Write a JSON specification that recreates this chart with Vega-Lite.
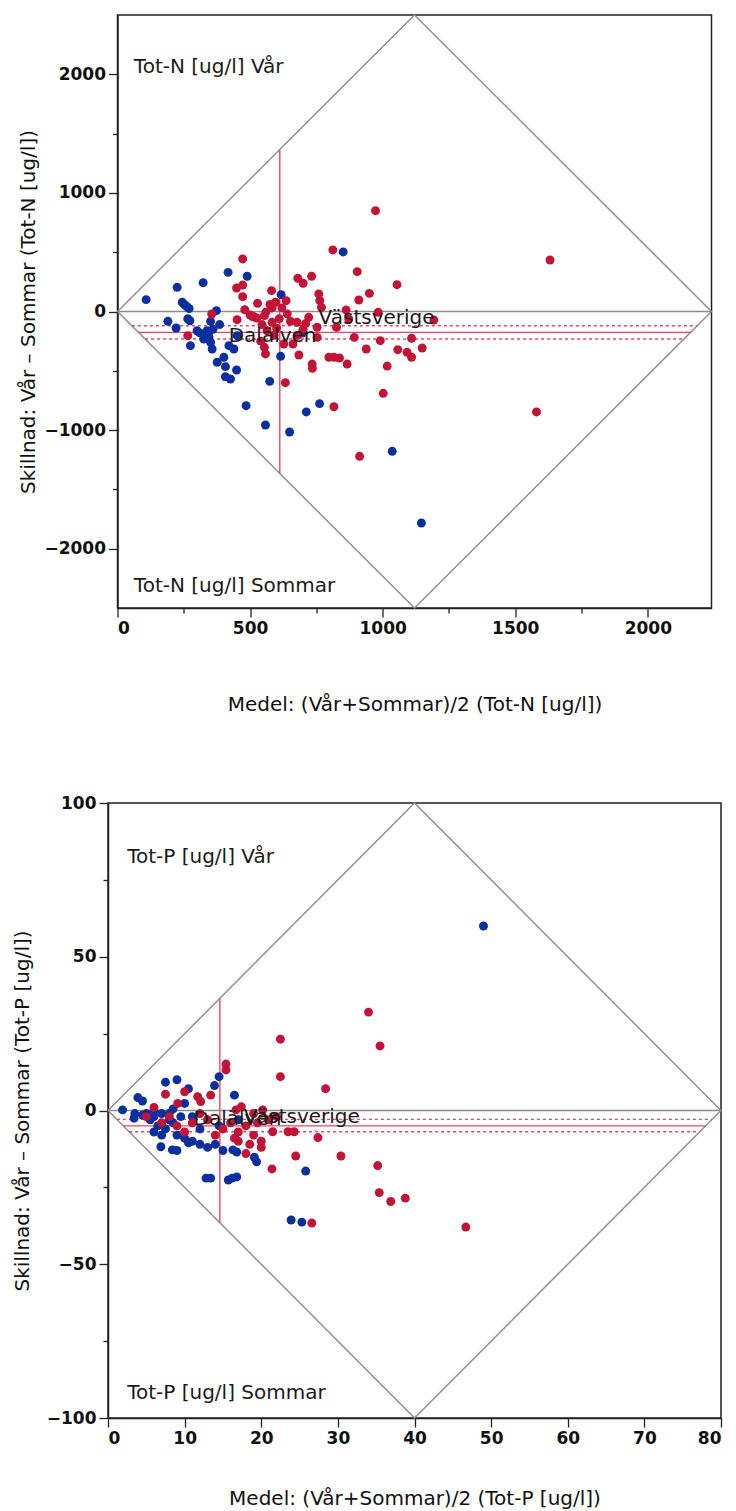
{
  "$schema": "https://vega.github.io/schema/vega-lite/v6.json",
  "padding": {"left": 11, "top": 11, "right": 10, "bottom": 0},
  "background": "white",
  "spacing": 195,
  "bounds": "flush",
  "center": true,
  "resolve": {"scale": {"x": "independent", "y": "independent", "color": "independent"}},
  "config": {
    "view": {"stroke": "#222", "strokeWidth": 1.5},
    "axis": {
      "labelFont": "DejaVu Sans", "labelFontWeight": "bold", "labelFontSize": 17, "labelColor": "#111",
      "titleFont": "DejaVu Sans", "titleFontWeight": "normal", "titleFontSize": 20, "titleColor": "#111",
      "domainColor": "#222", "domainWidth": 1.5, "tickColor": "#222", "tickWidth": 1.3, "grid": false, "labelPadding": 3
    },
    "text": {"font": "DejaVu Sans", "fontSize": 20, "color": "#1a1a1a"}
  },
  "datasets": {
    "dN": [{"i":0,"x":0,"y":0},{"i":1,"x":1120,"y":2500},{"i":2,"x":2240,"y":0},{"i":3,"x":1120,"y":-2500},{"i":4,"x":0,"y":0}],
    "zN": [{"x":0,"x2":2240,"y":0}],
    "mN": [{"kind":"medel","x":79,"x2":2161,"y":-176},{"kind":"ki","x":54,"x2":2186,"y":-120},{"kind":"ki","x":104,"x2":2136,"y":-232}],
    "vN": [{"x":612,"y":-1366,"y2":1366}],
    "lN": [{"x":585,"y":-207,"t":"Dalälven"},{"x":977,"y":-55,"t":"Västsverige"}],
    "cN": [{"x":61.6,"y":2059,"t":"Tot-N [ug/l] Vår"},{"x":61.6,"y":-2312,"t":"Tot-N [ug/l] Sommar"}],
    "pN": [
      {"g":"Dalälven","x":108,"y":100},{"g":"Dalälven","x":225,"y":204},{"g":"Dalälven","x":323,"y":243},{"g":"Dalälven","x":417,"y":330},
      {"g":"Dalälven","x":489,"y":297},{"g":"Dalälven","x":244,"y":78},{"g":"Dalälven","x":253,"y":57},{"g":"Dalälven","x":262,"y":40},
      {"g":"Dalälven","x":270,"y":25},{"g":"Dalälven","x":190,"y":-83},{"g":"Dalälven","x":221,"y":-139},{"g":"Dalälven","x":265,"y":-61},
      {"g":"Dalälven","x":273,"y":-78},{"g":"Dalälven","x":275,"y":-288},{"g":"Dalälven","x":300,"y":-162},{"g":"Dalälven","x":310,"y":-180},
      {"g":"Dalälven","x":325,"y":-232},{"g":"Dalälven","x":338,"y":-162},{"g":"Dalälven","x":351,"y":-260},{"g":"Dalälven","x":357,"y":-316},
      {"g":"Dalälven","x":351,"y":-83},{"g":"Dalälven","x":373,"y":7},{"g":"Dalälven","x":376,"y":-428},{"g":"Dalälven","x":401,"y":-386},
      {"g":"Dalälven","x":407,"y":-465},{"g":"Dalälven","x":407,"y":-550},{"g":"Dalälven","x":426,"y":-569},{"g":"Dalälven","x":420,"y":-288},
      {"g":"Dalälven","x":439,"y":-316},{"g":"Dalälven","x":449,"y":-493},{"g":"Dalälven","x":451,"y":-204},{"g":"Dalälven","x":330,"y":-190},
      {"g":"Dalälven","x":345,"y":-210},{"g":"Dalälven","x":360,"y":-150},{"g":"Dalälven","x":385,"y":-110},{"g":"Dalälven","x":485,"y":-794},
      {"g":"Dalälven","x":558,"y":-957},{"g":"Dalälven","x":574,"y":-589},{"g":"Dalälven","x":615,"y":-378},{"g":"Dalälven","x":617,"y":142},
      {"g":"Dalälven","x":649,"y":-1016},{"g":"Dalälven","x":696,"y":-181},{"g":"Dalälven","x":712,"y":-847},{"g":"Dalälven","x":762,"y":-777},
      {"g":"Dalälven","x":851,"y":502},{"g":"Dalälven","x":1036,"y":-1179},{"g":"Dalälven","x":1146,"y":-1783},
      {"g":"Västsverige","x":472,"y":443},{"g":"Västsverige","x":449,"y":198},{"g":"Västsverige","x":472,"y":223},{"g":"Västsverige","x":472,"y":125},
      {"g":"Västsverige","x":480,"y":15},{"g":"Västsverige","x":451,"y":-69},{"g":"Västsverige","x":355,"y":-21},{"g":"Västsverige","x":265,"y":-204},
      {"g":"Västsverige","x":528,"y":69},{"g":"Västsverige","x":581,"y":176},{"g":"Västsverige","x":596,"y":78},{"g":"Västsverige","x":583,"y":30},
      {"g":"Västsverige","x":636,"y":91},{"g":"Västsverige","x":500,"y":-30},{"g":"Västsverige","x":515,"y":-45},{"g":"Västsverige","x":525,"y":-55},
      {"g":"Västsverige","x":509,"y":-42},{"g":"Västsverige","x":554,"y":-35},{"g":"Västsverige","x":564,"y":-162},{"g":"Västsverige","x":554,"y":-302},
      {"g":"Västsverige","x":558,"y":-358},{"g":"Västsverige","x":583,"y":-91},{"g":"Västsverige","x":627,"y":-274},{"g":"Västsverige","x":633,"y":-600},
      {"g":"Västsverige","x":652,"y":-83},{"g":"Västsverige","x":677,"y":-91},{"g":"Västsverige","x":662,"y":-274},{"g":"Västsverige","x":684,"y":-367},
      {"g":"Västsverige","x":680,"y":280},{"g":"Västsverige","x":700,"y":238},{"g":"Västsverige","x":732,"y":297},{"g":"Västsverige","x":721,"y":-49},
      {"g":"Västsverige","x":734,"y":-443},{"g":"Västsverige","x":735,"y":-479},{"g":"Västsverige","x":759,"y":148},{"g":"Västsverige","x":763,"y":91},
      {"g":"Västsverige","x":769,"y":35},{"g":"Västsverige","x":753,"y":-133},{"g":"Västsverige","x":753,"y":-218},{"g":"Västsverige","x":797,"y":-386},
      {"g":"Västsverige","x":816,"y":-386},{"g":"Västsverige","x":837,"y":-392},{"g":"Västsverige","x":816,"y":-803},{"g":"Västsverige","x":826,"y":-133},
      {"g":"Västsverige","x":812,"y":519},{"g":"Västsverige","x":866,"y":-443},{"g":"Västsverige","x":862,"y":13},{"g":"Västsverige","x":872,"y":-63},
      {"g":"Västsverige","x":904,"y":336},{"g":"Västsverige","x":910,"y":97},{"g":"Västsverige","x":893,"y":-218},{"g":"Västsverige","x":938,"y":-316},
      {"g":"Västsverige","x":950,"y":153},{"g":"Västsverige","x":973,"y":850},{"g":"Västsverige","x":983,"y":-7},{"g":"Västsverige","x":991,"y":-246},
      {"g":"Västsverige","x":1017,"y":-460},{"g":"Västsverige","x":1002,"y":-690},{"g":"Västsverige","x":1054,"y":226},{"g":"Västsverige","x":1057,"y":-322},
      {"g":"Västsverige","x":1092,"y":-344},{"g":"Västsverige","x":1109,"y":-386},{"g":"Västsverige","x":1109,"y":-226},{"g":"Västsverige","x":1149,"y":-308},
      {"g":"Västsverige","x":913,"y":-1221},{"g":"Västsverige","x":1193,"y":-72},{"g":"Västsverige","x":1631,"y":434},{"g":"Västsverige","x":1580,"y":-847},
      {"g":"Västsverige","x":545,"y":-110},{"g":"Västsverige","x":600,"y":-140},{"g":"Västsverige","x":590,"y":-200},{"g":"Västsverige","x":540,"y":-250},
      {"g":"Västsverige","x":610,"y":-60},{"g":"Västsverige","x":620,"y":30},{"g":"Västsverige","x":575,"y":60},{"g":"Västsverige","x":560,"y":-5},
      {"g":"Västsverige","x":640,"y":-20},{"g":"Västsverige","x":700,"y":-150},{"g":"Västsverige","x":710,"y":-100},{"g":"Västsverige","x":680,"y":-200}
    ],
    "dP": [{"i":0,"x":0,"y":0},{"i":1,"x":40,"y":100},{"i":2,"x":80,"y":0},{"i":3,"x":40,"y":-100},{"i":4,"x":0,"y":0}],
    "zP": [{"x":0,"x2":80,"y":0}],
    "mP": [{"kind":"medel","x":2.0,"x2":78.0,"y":-5.0},{"kind":"ki","x":1.16,"x2":78.84,"y":-2.9},{"kind":"ki","x":2.76,"x2":77.24,"y":-6.9}],
    "vP": [{"x":14.6,"y":-36.5,"y2":36.5}],
    "lP": [{"x":16.9,"y":-2.8,"t":"Dalälven"},{"x":25.3,"y":-2.2,"t":"Västsverige"}],
    "cP": [{"x":2.5,"y":82.4,"t":"Tot-P [ug/l] Vår"},{"x":2.5,"y":-91.9,"t":"Tot-P [ug/l] Sommar"}],
    "pP": [
      {"g":"Dalälven","x":49,"y":60},{"g":"Dalälven","x":14.5,"y":11},{"g":"Dalälven","x":13.9,"y":8.1},{"g":"Dalälven","x":16.5,"y":5},
      {"g":"Dalälven","x":7.5,"y":9.2},{"g":"Dalälven","x":9.0,"y":10.0},{"g":"Dalälven","x":10.5,"y":7.1},{"g":"Dalälven","x":10.0,"y":2.3},
      {"g":"Dalälven","x":3.9,"y":4.2},{"g":"Dalälven","x":4.5,"y":3.1},{"g":"Dalälven","x":1.9,"y":0.2},{"g":"Dalälven","x":3.4,"y":-2.5},
      {"g":"Dalälven","x":6.9,"y":-11.8},{"g":"Dalälven","x":8.4,"y":-12.8},{"g":"Dalälven","x":25.8,"y":-19.7},{"g":"Dalälven","x":25.3,"y":-36.3},
      {"g":"Dalälven","x":23.9,"y":-35.6},{"g":"Dalälven","x":19.4,"y":-16.7},{"g":"Dalälven","x":19.1,"y":-15.2},{"g":"Dalälven","x":16.3,"y":-12.8},
      {"g":"Dalälven","x":16.8,"y":-13.5},{"g":"Dalälven","x":16.2,"y":-22},{"g":"Dalälven","x":16.8,"y":-21.6},{"g":"Dalälven","x":15.7,"y":-22.6},
      {"g":"Dalälven","x":12.8,"y":-22},{"g":"Dalälven","x":13.4,"y":-22},{"g":"Dalälven","x":5,"y":-1},{"g":"Dalälven","x":6,"y":-2},
      {"g":"Dalälven","x":7,"y":-1},{"g":"Dalälven","x":8,"y":-3},{"g":"Dalälven","x":6.5,"y":-5},{"g":"Dalälven","x":7.5,"y":-6},
      {"g":"Dalälven","x":8.5,"y":-4},{"g":"Dalälven","x":9,"y":-8},{"g":"Dalälven","x":10,"y":-9},{"g":"Dalälven","x":11,"y":-10},
      {"g":"Dalälven","x":12,"y":-11},{"g":"Dalälven","x":13,"y":-12},{"g":"Dalälven","x":14,"y":-11},{"g":"Dalälven","x":9.5,"y":-2},
      {"g":"Dalälven","x":8,"y":-1},{"g":"Dalälven","x":5.5,"y":-3},{"g":"Dalälven","x":7,"y":-8},{"g":"Dalälven","x":6,"y":-7},
      {"g":"Dalälven","x":10.5,"y":-10.5},{"g":"Dalälven","x":12,"y":-6},{"g":"Dalälven","x":14.5,"y":-5},{"g":"Dalälven","x":15,"y":-13},
      {"g":"Dalälven","x":17,"y":-3},{"g":"Dalälven","x":11,"y":-2},{"g":"Dalälven","x":9,"y":-13},{"g":"Dalälven","x":4.5,"y":-1.5},
      {"g":"Dalälven","x":3.5,"y":-1},{"g":"Dalälven","x":6,"y":0},{"g":"Dalälven","x":8.5,"y":0.5},
      {"g":"Västsverige","x":34,"y":32},{"g":"Västsverige","x":35.5,"y":21},{"g":"Västsverige","x":28.4,"y":7.1},{"g":"Västsverige","x":22.5,"y":23.2},
      {"g":"Västsverige","x":22.5,"y":11},{"g":"Västsverige","x":15.4,"y":15.1},{"g":"Västsverige","x":15.4,"y":13.2},{"g":"Västsverige","x":13.4,"y":5.0},
      {"g":"Västsverige","x":10.0,"y":6.1},{"g":"Västsverige","x":7.5,"y":5.3},{"g":"Västsverige","x":9.1,"y":2.3},{"g":"Västsverige","x":11.7,"y":4.5},
      {"g":"Västsverige","x":12.1,"y":2.9},{"g":"Västsverige","x":20.2,"y":0.2},{"g":"Västsverige","x":17.4,"y":1.2},{"g":"Västsverige","x":16.7,"y":0.2},
      {"g":"Västsverige","x":24.3,"y":-6.9},{"g":"Västsverige","x":27.4,"y":-8.8},{"g":"Västsverige","x":21.5,"y":-6.9},{"g":"Västsverige","x":23.5,"y":-6.9},
      {"g":"Västsverige","x":24.5,"y":-14.8},{"g":"Västsverige","x":30.4,"y":-14.8},{"g":"Västsverige","x":46.7,"y":-37.9},{"g":"Västsverige","x":38.8,"y":-28.5},
      {"g":"Västsverige","x":36.9,"y":-29.6},{"g":"Västsverige","x":35.2,"y":-17.9},{"g":"Västsverige","x":35.4,"y":-26.7},{"g":"Västsverige","x":26.6,"y":-36.6},
      {"g":"Västsverige","x":21.4,"y":-19},{"g":"Västsverige","x":18,"y":-5},{"g":"Västsverige","x":19,"y":-8},{"g":"Västsverige","x":20,"y":-10},
      {"g":"Västsverige","x":17,"y":-7},{"g":"Västsverige","x":18.5,"y":-11},{"g":"Västsverige","x":19.5,"y":-4},{"g":"Västsverige","x":21,"y":-3},
      {"g":"Västsverige","x":20,"y":-12},{"g":"Västsverige","x":16,"y":-4},{"g":"Västsverige","x":15,"y":-6},{"g":"Västsverige","x":14,"y":-8},
      {"g":"Västsverige","x":13,"y":-3},{"g":"Västsverige","x":12,"y":-1},{"g":"Västsverige","x":11,"y":-4},{"g":"Västsverige","x":10,"y":-7},
      {"g":"Västsverige","x":9,"y":-5},{"g":"Västsverige","x":8,"y":-2},{"g":"Västsverige","x":7,"y":-4},{"g":"Västsverige","x":6,"y":1},
      {"g":"Västsverige","x":5,"y":-2},{"g":"Västsverige","x":22,"y":-2},{"g":"Västsverige","x":19,"y":-1},{"g":"Västsverige","x":17,"y":-10},
      {"g":"Västsverige","x":18,"y":-14},{"g":"Västsverige","x":16.5,"y":-9}
    ]
  },
  "vconcat": [
    {
      "width": 594, "height": 593,
      "encoding": {
        "x": {"field": "x", "type": "quantitative", "title": "Medel: (Vår+Sommar)/2 (Tot-N [ug/l])",
          "scale": {"domain": [0, 2240], "nice": false, "zero": false},
          "axis": {"values": [0,250,500,750,1000,1250,1500,1750,2000], "format": "d",
            "labelExpr": "datum.value % 500 === 0 ? datum.label : ''",
            "tickSize": {"condition": {"test": "datum.value % 500 !== 0", "value": 5}, "value": 9},
            "titlePadding": 58}},
        "y": {"field": "y", "type": "quantitative", "title": "Skillnad: Vår – Sommar (Tot-N [ug/l])",
          "scale": {"domain": [-2500, 2500], "nice": false, "zero": false},
          "axis": {"values": [-2000,-1500,-1000,-500,0,500,1000,1500,2000], "format": "d",
            "labelExpr": "datum.value % 1000 === 0 ? datum.label : ''",
            "tickSize": {"condition": {"test": "datum.value % 1000 !== 0", "value": 5}, "value": 9},
            "titleX": -79}}
      },
      "layer": [
        {"data": {"name": "dN"}, "mark": {"type": "line", "color": "#8c8c8c", "strokeWidth": 1.4}, "encoding": {"order": {"field": "i"}}},
        {"data": {"name": "zN"}, "mark": {"type": "rule", "color": "#8c8c8c", "strokeWidth": 1.4}, "encoding": {"x2": {"field": "x2"}}},
        {"data": {"name": "mN"}, "transform": [{"filter": "datum.kind === 'medel'"}], "mark": {"type": "rule", "color": "#EE4466", "strokeWidth": 1.4}, "encoding": {"x2": {"field": "x2"}}},
        {"data": {"name": "mN"}, "transform": [{"filter": "datum.kind === 'ki'"}], "mark": {"type": "rule", "color": "#EE4466", "strokeWidth": 1.4, "strokeDash": [3, 3]}, "encoding": {"x2": {"field": "x2"}}},
        {"data": {"name": "vN"}, "mark": {"type": "rule", "color": "#EE4466", "strokeWidth": 1.4}, "encoding": {"y2": {"field": "y2"}}},
        {"data": {"name": "pN"}, "mark": {"type": "circle", "size": 80, "opacity": 1},
          "encoding": {"color": {"field": "g", "type": "nominal", "scale": {"domain": ["Dalälven", "Västsverige"], "range": ["#0B2F9F", "#C21436"]}, "legend": null}}},
        {"data": {"name": "lN"}, "mark": {"type": "text", "align": "center", "baseline": "middle"}, "encoding": {"text": {"field": "t"}}},
        {"data": {"name": "cN"}, "mark": {"type": "text", "align": "left", "baseline": "middle"}, "encoding": {"text": {"field": "t"}}}
      ]
    },
    {
      "width": 613, "height": 615,
      "encoding": {
        "x": {"field": "x", "type": "quantitative", "title": "Medel: (Vår+Sommar)/2 (Tot-P [ug/l])",
          "scale": {"domain": [0, 80], "nice": false, "zero": false},
          "axis": {"values": [0,10,20,30,40,50,60,70,80], "format": "d", "tickSize": 9, "titlePadding": 42}},
        "y": {"field": "y", "type": "quantitative", "title": "Skillnad: Vår – Sommar (Tot-P [ug/l])",
          "scale": {"domain": [-100, 100], "nice": false, "zero": false},
          "axis": {"values": [-100,-75,-50,-25,0,25,50,75,100], "format": "d",
            "labelExpr": "datum.value % 50 === 0 ? datum.label : ''",
            "tickSize": {"condition": {"test": "datum.value % 50 !== 0", "value": 5}, "value": 9},
            "titleX": -76}}
      },
      "layer": [
        {"data": {"name": "dP"}, "mark": {"type": "line", "color": "#8c8c8c", "strokeWidth": 1.4}, "encoding": {"order": {"field": "i"}}},
        {"data": {"name": "zP"}, "mark": {"type": "rule", "color": "#8c8c8c", "strokeWidth": 1.4}, "encoding": {"x2": {"field": "x2"}}},
        {"data": {"name": "mP"}, "transform": [{"filter": "datum.kind === 'medel'"}], "mark": {"type": "rule", "color": "#EE4466", "strokeWidth": 1.4}, "encoding": {"x2": {"field": "x2"}}},
        {"data": {"name": "mP"}, "transform": [{"filter": "datum.kind === 'ki'"}], "mark": {"type": "rule", "color": "#EE4466", "strokeWidth": 1.4, "strokeDash": [3, 3]}, "encoding": {"x2": {"field": "x2"}}},
        {"data": {"name": "vP"}, "mark": {"type": "rule", "color": "#EE4466", "strokeWidth": 1.4}, "encoding": {"y2": {"field": "y2"}}},
        {"data": {"name": "pP"}, "mark": {"type": "circle", "size": 80, "opacity": 1},
          "encoding": {"color": {"field": "g", "type": "nominal", "scale": {"domain": ["Dalälven", "Västsverige"], "range": ["#0B2F9F", "#C21436"]}, "legend": null}}},
        {"data": {"name": "lP"}, "mark": {"type": "text", "align": "center", "baseline": "middle"}, "encoding": {"text": {"field": "t"}}},
        {"data": {"name": "cP"}, "mark": {"type": "text", "align": "left", "baseline": "middle"}, "encoding": {"text": {"field": "t"}}}
      ]
    }
  ]
}
